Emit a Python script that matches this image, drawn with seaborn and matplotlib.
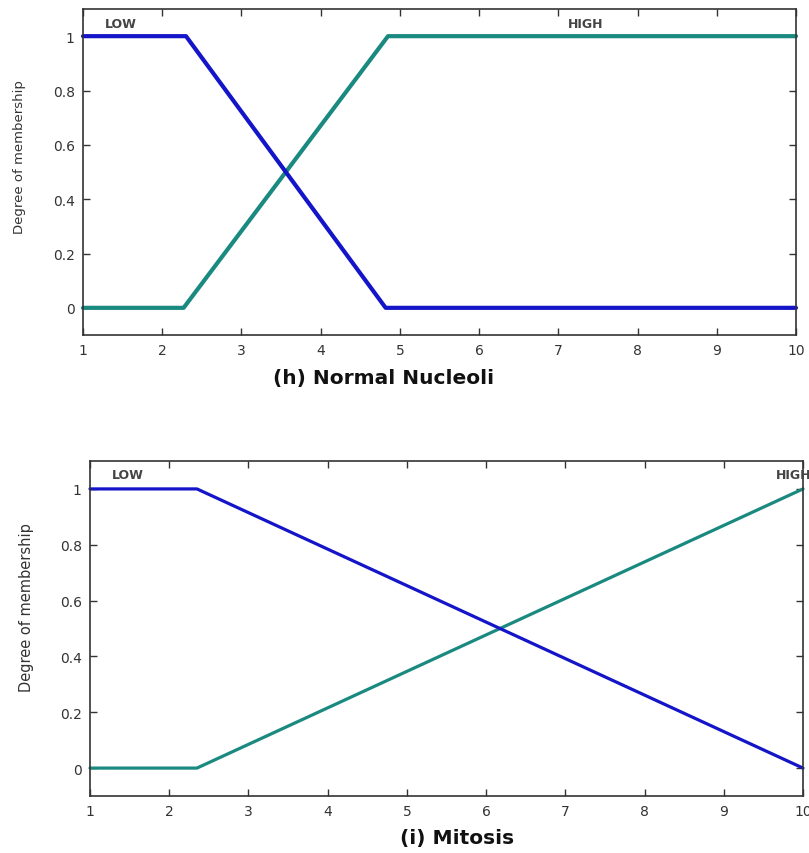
import matplotlib
matplotlib.use("Agg")
import matplotlib.pyplot as plt
import seaborn as sns
import pandas as pd

# Data: membership functions
nn_low_x = [1, 2.3, 4.82, 10]
nn_low_y = [1, 1, 0, 0]
nn_high_x = [1, 2.27, 4.85, 10]
nn_high_y = [0, 0, 1, 1]

mi_low_x = [1, 2.35, 10]
mi_low_y = [1, 1, 0]
mi_high_x = [1, 2.35, 10]
mi_high_y = [0, 0, 1]

x_ticks = [1, 2, 3, 4, 5, 6, 7, 8, 9, 10]
y_ticks = [0, 0.2, 0.4, 0.6, 0.8, 1]
y_tick_labels = ["0", "0.2", "0.4", "0.6", "0.8", "1"]

sns.set_style("ticks")
plt.rcParams['font.family'] = ['DejaVu Sans']

BLUE = "#1414c8"
GREEN = "#1a8a80"

fig = plt.figure(figsize=(8.09, 8.54), dpi=100)
ax1 = fig.add_axes([83/809, 1-336/854, 713/809, 326/854])
ax2 = fig.add_axes([90/809, 1-797/854, 713/809, 335/854])

def draw(ax, lx, ly, hx, hy, lw, title, title_x, low_pos, high_pos,
         ylab_size, ylab_x, ylab_y, labelpad):
    dl = pd.DataFrame({"x": lx, "y": ly})
    dh = pd.DataFrame({"x": hx, "y": hy})
    sns.lineplot(data=dh, x="x", y="y", ax=ax, color=GREEN, linewidth=lw, clip_on=False)
    sns.lineplot(data=dl, x="x", y="y", ax=ax, color=BLUE, linewidth=lw, clip_on=False)
    ax.set_xlim(1, 10)
    ax.set_ylim(-0.1, 1.1)
    ax.set_xticks(x_ticks)
    ax.set_xticklabels([str(t) for t in x_ticks])
    ax.set_yticks(y_ticks)
    ax.set_yticklabels(y_tick_labels)
    ax.tick_params(direction="in", top=True, right=True, length=5, width=1,
                   labelsize=10, colors="#333333", pad=6)
    for s in ax.spines.values():
        s.set_color("#333333")
        s.set_linewidth(1.2)
    ax.set_ylabel("Degree of membership", fontsize=ylab_size, color="#333333")
    ax.yaxis.set_label_coords(ylab_x, ylab_y)
    ax.set_xlabel(title, fontsize=14.5, fontweight="bold", color="#111111", labelpad=labelpad)
    ax.xaxis.label.set_x(title_x)
    ax.text(low_pos[0], low_pos[1], "LOW", fontsize=9, fontweight="bold",
            color="#444444", va="center")
    ax.text(high_pos[0], high_pos[1], "HIGH", fontsize=9, fontweight="bold",
            color="#444444", va="center", clip_on=False)

draw(ax1, nn_low_x, nn_low_y, nn_high_x, nn_high_y, 3.0, "(h) Normal Nucleoli", 0.422,
     (1.28, 1.045), (7.12, 1.045), 9.5, -0.080, 0.549, 8)
draw(ax2, mi_low_x, mi_low_y, mi_high_x, mi_high_y, 2.3, "(i) Mitosis", 0.515,
     (1.27, 1.05), (9.66, 1.05), 10.5, -0.0785, 0.564, 7)

fig.savefig("out.png", dpi=100)
